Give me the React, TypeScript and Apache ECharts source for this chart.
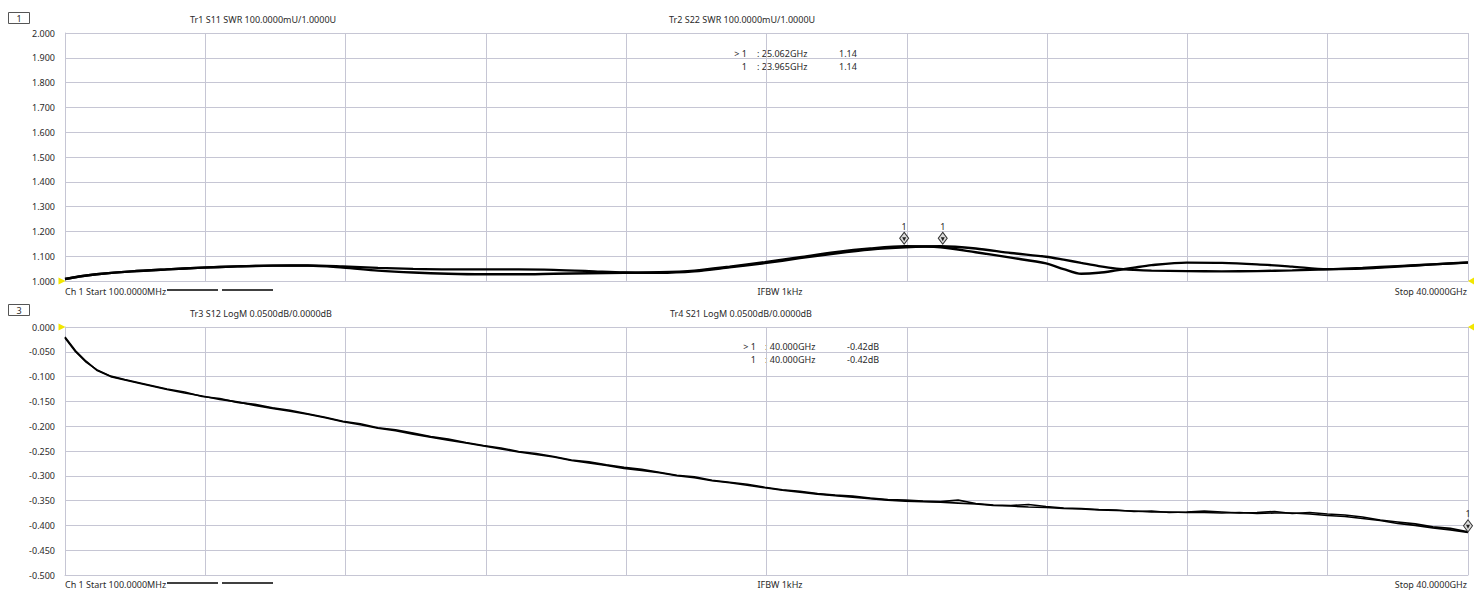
import React, { useEffect, useRef } from "react";
import * as echarts from "echarts";

// ---------- data ----------
const TOP_FREQ_GHZ = [0.1, 0.5, 1, 2, 3, 4, 5, 6, 7, 8, 9, 10, 11, 12, 13, 14, 15, 16, 17, 18, 19, 20, 21, 22, 23, 24, 25, 26, 27, 28, 28.5, 29, 29.5, 30, 30.5, 31, 32, 33, 34, 35, 36, 37, 38, 39, 40];
const TR1_S11_SWR = [1.008, 1.018, 1.027, 1.039, 1.047, 1.054, 1.059, 1.062, 1.063, 1.059, 1.053, 1.049, 1.047, 1.047, 1.047, 1.045, 1.040, 1.034, 1.033, 1.039, 1.055, 1.072, 1.092, 1.111, 1.127, 1.136, 1.140, 1.131, 1.113, 1.098, 1.086, 1.073, 1.060, 1.050, 1.045, 1.042, 1.040, 1.039, 1.040, 1.043, 1.047, 1.053, 1.060, 1.067, 1.074];
const TR2_S22_SWR = [1.008, 1.018, 1.027, 1.039, 1.047, 1.054, 1.059, 1.062, 1.062, 1.054, 1.042, 1.034, 1.029, 1.027, 1.027, 1.029, 1.031, 1.033, 1.035, 1.042, 1.058, 1.076, 1.096, 1.116, 1.131, 1.140, 1.136, 1.116, 1.094, 1.071, 1.048, 1.029, 1.033, 1.043, 1.054, 1.064, 1.074, 1.073, 1.067, 1.058, 1.048, 1.050, 1.058, 1.067, 1.075];

const BOT_FREQ_GHZ = [0.1, 0.4, 0.7, 1.0, 1.4, 1.8, 2.3, 3, 3.5, 4, 4.5, 5, 5.5, 6, 6.5, 7, 7.5, 8, 8.5, 9, 9.5, 10, 10.5, 11, 11.5, 12, 12.5, 13, 13.5, 14, 14.5, 15, 15.5, 16, 16.5, 17, 17.5, 18, 18.5, 19, 19.5, 20, 20.5, 21, 21.5, 22, 22.5, 23, 23.5, 24, 24.5, 25, 25.5, 26, 26.5, 27, 27.5, 28, 28.5, 29, 29.5, 30, 30.5, 31, 31.5, 32, 32.5, 33, 33.5, 34, 34.5, 35, 35.5, 36, 36.5, 37, 37.5, 38, 38.5, 39, 39.5, 40];
const TR3_S12_DB = [-0.022, -0.050, -0.071, -0.086, -0.099, -0.106, -0.114, -0.125, -0.131, -0.140, -0.144, -0.152, -0.156, -0.163, -0.168, -0.175, -0.182, -0.190, -0.195, -0.203, -0.207, -0.214, -0.221, -0.226, -0.233, -0.239, -0.244, -0.251, -0.255, -0.261, -0.268, -0.272, -0.278, -0.283, -0.287, -0.293, -0.299, -0.302, -0.309, -0.313, -0.317, -0.323, -0.328, -0.331, -0.336, -0.339, -0.341, -0.345, -0.348, -0.349, -0.351, -0.352, -0.349, -0.356, -0.359, -0.360, -0.358, -0.362, -0.365, -0.366, -0.368, -0.369, -0.372, -0.371, -0.374, -0.373, -0.371, -0.373, -0.375, -0.374, -0.372, -0.376, -0.374, -0.377, -0.379, -0.383, -0.389, -0.393, -0.397, -0.403, -0.406, -0.413];
const TR4_S21_DB = [-0.020, -0.048, -0.069, -0.087, -0.100, -0.107, -0.115, -0.126, -0.133, -0.139, -0.146, -0.151, -0.158, -0.164, -0.170, -0.176, -0.183, -0.191, -0.197, -0.204, -0.209, -0.216, -0.222, -0.228, -0.234, -0.240, -0.246, -0.252, -0.257, -0.262, -0.269, -0.274, -0.279, -0.285, -0.289, -0.294, -0.300, -0.304, -0.310, -0.314, -0.319, -0.324, -0.329, -0.333, -0.337, -0.340, -0.343, -0.346, -0.349, -0.351, -0.352, -0.353, -0.355, -0.357, -0.360, -0.361, -0.363, -0.364, -0.366, -0.367, -0.369, -0.370, -0.371, -0.373, -0.373, -0.374, -0.374, -0.375, -0.374, -0.376, -0.375, -0.375, -0.377, -0.380, -0.382, -0.386, -0.390, -0.396, -0.400, -0.405, -0.409, -0.414];

const TOP_MARKERS = [
  { trace: "Tr1", freq: 25.062, value: 1.14 },
  { trace: "Tr2", freq: 23.965, value: 1.14 },
];
const BOT_MARKER = { freq: 40.0, value: -0.413 };

const TOP_READOUT = [
  { mark: "> 1", freq: ": 25.062GHz", val: "1.14" },
  { mark: "1", freq: ": 23.965GHz", val: "1.14" },
];
const BOT_READOUT = [
  { mark: "> 1", freq: ": 40.000GHz", val: "-0.42dB" },
  { mark: "1", freq: ": 40.000GHz", val: "-0.42dB" },
];

const FONT = '"Noto Sans", "DejaVu Sans", sans-serif';
const GRID_COLOR = "#c6c6d4";
const TEXT_COLOR = "#2a2a2a";
const YELLOW = "#f2e600";

const zip = (xs: number[], ys: number[]) => xs.map((x, i) => [x, ys[i]]);

const txt = (x: number, y: number, text: string, align = "left") => ({
  type: "text",
  x,
  y,
  silent: true,
  style: { text, fill: TEXT_COLOR, fontSize: 9, fontFamily: FONT, align, verticalAlign: "middle" },
});

const markerDiamond = (coord: number[], offY: number) => [
  {
    coord,
    symbol: "diamond",
    symbolSize: [9, 12],
    symbolOffset: [0, offY],
    itemStyle: { color: "#dcdcdc", borderColor: "#333", borderWidth: 1 },
    label: { show: true, position: "top", formatter: "1", fontSize: 9, color: TEXT_COLOR, fontFamily: FONT, distance: 1 },
  },
  {
    coord,
    symbol: "triangle",
    symbolRotate: 180,
    symbolSize: [4, 4],
    symbolOffset: [0, offY + 1],
    itemStyle: { color: "#222" },
    label: { show: false },
  },
];

const refArrows = (xMin: number, xMax: number, y: number) => [
  {
    coord: [xMin, y],
    symbol: "triangle",
    symbolRotate: -90,
    symbolSize: [7, 7],
    symbolOffset: [-3, 0],
    itemStyle: { color: YELLOW },
    label: { show: false },
  },
  {
    coord: [xMax, y],
    symbol: "triangle",
    symbolRotate: 90,
    symbolSize: [7, 6],
    symbolOffset: [3, 0],
    itemStyle: { color: YELLOW },
    label: { show: false },
  },
];

export default function App() {
  const ref = useRef<HTMLDivElement>(null);

  useEffect(() => {
    if (!ref.current) return;
    const chart = echarts.init(ref.current, undefined, { renderer: "svg" });

    const divAxis = (gridIndex: number) => ({
      gridIndex,
      type: "value",
      min: 0,
      max: 10,
      interval: 1,
      axisLabel: { show: false },
      axisTick: { show: false },
      axisLine: { show: true, onZero: false, lineStyle: { color: GRID_COLOR, width: 1 } },
      splitLine: { show: true, lineStyle: { color: GRID_COLOR, width: 1 } },
    });
    const freqAxis = (gridIndex: number) => ({
      gridIndex,
      type: "value",
      min: 0.1,
      max: 40,
      show: false,
    });
    const yAxis = (gridIndex: number, min: number, max: number, interval: number) => ({
      gridIndex,
      type: "value",
      min,
      max,
      interval,
      axisLabel: {
        formatter: (v: number) => v.toFixed(3),
        fontSize: 9,
        color: TEXT_COLOR,
        fontFamily: FONT,
        margin: 10,
      },
      axisTick: { show: false },
      axisLine: { show: true, lineStyle: { color: GRID_COLOR, width: 1 } },
      splitLine: { show: true, lineStyle: { color: GRID_COLOR, width: 1 } },
    });

    const graphics: any[] = [];
    // Channel boxes
    graphics.push({ type: "rect", shape: { x: 8.5, y: 12.5, width: 21, height: 11 }, style: { fill: "#fff", stroke: "#555", lineWidth: 1 } });
    graphics.push(txt(19, 18, "1", "center"));
    graphics.push({ type: "rect", shape: { x: 8.5, y: 304.5, width: 21, height: 11 }, style: { fill: "#fff", stroke: "#555", lineWidth: 1 } });
    graphics.push(txt(19, 310, "3", "center"));
    // Titles
    graphics.push(txt(190, 19, "Tr1 S11 SWR 100.0000mU/1.0000U"));
    graphics.push(txt(669, 19, "Tr2 S22 SWR 100.0000mU/1.0000U"));
    graphics.push(txt(190, 313, "Tr3 S12 LogM 0.0500dB/0.0000dB"));
    graphics.push(txt(670, 313, "Tr4 S21 LogM 0.0500dB/0.0000dB"));
    // Marker readouts
    TOP_READOUT.forEach((r, i) => {
      const y = 53 + i * 13;
      graphics.push(txt(747, y, r.mark, "right"));
      graphics.push(txt(757, y, r.freq));
      graphics.push(txt(839, y, r.val));
    });
    BOT_READOUT.forEach((r, i) => {
      const y = 346 + i * 13;
      graphics.push(txt(756, y, r.mark, "right"));
      graphics.push(txt(765, y, r.freq));
      graphics.push(txt(847, y, r.val));
    });
    // Footers
    [291, 584].forEach((y) => {
      graphics.push(txt(65, y, "Ch 1 Start 100.0000MHz"));
      graphics.push({ type: "line", shape: { x1: 167, y1: y - 1, x2: 218, y2: y - 1 }, style: { stroke: "#000", lineWidth: 1.5 } });
      graphics.push({ type: "line", shape: { x1: 222, y1: y - 1, x2: 273, y2: y - 1 }, style: { stroke: "#000", lineWidth: 1.5 } });
      graphics.push(txt(780, y, "IFBW 1kHz", "center"));
      graphics.push(txt(1467, y, "Stop 40.0000GHz", "right"));
    });

    const lineBase = {
      type: "line",
      showSymbol: false,
      symbol: "none",
      silent: true,
      clip: true,
    };

    const tr1Marker = TOP_MARKERS.find((m) => m.trace === "Tr1")!;
    const tr2Marker = TOP_MARKERS.find((m) => m.trace === "Tr2")!;

    chart.setOption({
      animation: false,
      backgroundColor: "#ffffff",
      textStyle: { fontFamily: FONT },
      grid: [
        { left: 65, top: 33, width: 1403, height: 248 },
        { left: 65, top: 327, width: 1403, height: 248 },
      ],
      xAxis: [divAxis(0), freqAxis(0), divAxis(1), freqAxis(1)],
      yAxis: [yAxis(0, 1, 2, 0.1), yAxis(1, -0.5, 0, 0.05)],
      graphic: graphics,
      series: [
        {
          ...lineBase,
          name: "Tr1 S11",
          xAxisIndex: 1,
          yAxisIndex: 0,
          smooth: 0.3,
          data: zip(TOP_FREQ_GHZ, TR1_S11_SWR),
          lineStyle: { color: "#000", width: 2.4 },
          markPoint: {
            silent: true,
            data: [
              ...markerDiamond([tr1Marker.freq, tr1Marker.value], -8),
              ...refArrows(0.1, 40, 1.0),
            ],
          },
        },
        {
          ...lineBase,
          name: "Tr2 S22",
          xAxisIndex: 1,
          yAxisIndex: 0,
          smooth: 0.3,
          data: zip(TOP_FREQ_GHZ, TR2_S22_SWR),
          lineStyle: { color: "#000", width: 2.4 },
          markPoint: {
            silent: true,
            data: [...markerDiamond([tr2Marker.freq, tr2Marker.value], -8)],
          },
        },
        {
          ...lineBase,
          name: "Tr3 S12",
          xAxisIndex: 3,
          yAxisIndex: 1,
          data: zip(BOT_FREQ_GHZ, TR3_S12_DB),
          lineStyle: { color: "#000", width: 1.6 },
          markPoint: {
            silent: true,
            data: [
              ...markerDiamond([BOT_MARKER.freq, BOT_MARKER.value], -6),
              ...refArrows(0.1, 40, 0),
            ],
          },
        },
        {
          ...lineBase,
          name: "Tr4 S21",
          xAxisIndex: 3,
          yAxisIndex: 1,
          data: zip(BOT_FREQ_GHZ, TR4_S21_DB),
          lineStyle: { color: "#000", width: 1.6 },
        },
      ],
    });

    return () => chart.dispose();
  }, []);

  return (
    <div
      ref={ref}
      style={{ position: "absolute", left: 0, top: 0, width: 1484, height: 593, background: "#fff" }}
    />
  );
}
